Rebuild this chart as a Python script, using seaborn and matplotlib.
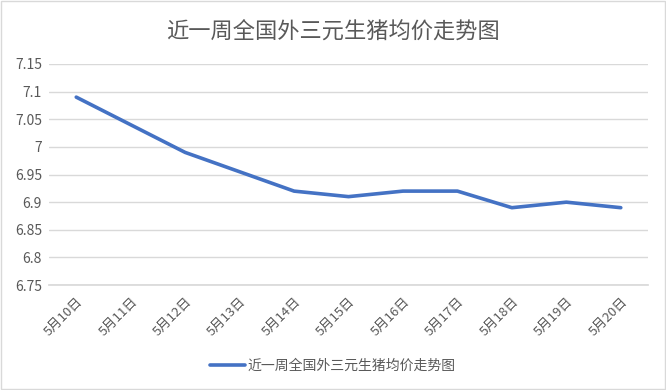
import seaborn as sns
import matplotlib.pyplot as plt
import pandas as pd
import numpy as np

dates = ['5月10日', '5月11日', '5月12日', '5月13日', '5月14日', '5月15日',
         '5月16日', '5月17日', '5月18日', '5月19日', '5月20日']
prices = [7.09, 7.04, 6.99, 6.955, 6.92, 6.91, 6.92, 6.92, 6.89, 6.90, 6.89]
series_name = '近一周全国外三元生猪均价走势图'
yticks = [6.75, 6.8, 6.85, 6.9, 6.95, 7, 7.05, 7.1, 7.15]
ytick_labels = ['6.75', '6.8', '6.85', '6.9', '6.95', '7', '7.05', '7.1', '7.15']

sns.set_theme(style='white')
plt.rcParams['font.family'] = ['Noto Sans CJK SC', 'DejaVu Sans']

df = pd.DataFrame({'date': dates, 'price': prices, 'series': series_name})
df['pos'] = np.arange(len(dates))

fig = plt.figure(figsize=(6.66, 3.9), dpi=100)
ax = fig.add_axes([0.0736, 0.269, 0.8994, 0.567])

sns.lineplot(data=df, x='pos', y='price', hue='series', palette=['#4472C4'],
             linewidth=2.6, ax=ax)

ax.set_xlim(-0.5, len(dates) - 0.5)
ax.set_ylim(6.75, 7.15)
ax.set_yticks(yticks)
ax.set_yticklabels(ytick_labels)
ax.set_xticks(df['pos'])
ax.set_xticklabels(dates, rotation=45, ha='right', rotation_mode='anchor')
ax.tick_params(axis='y', labelsize=10, labelcolor='#595959', length=0, pad=5)
ax.tick_params(axis='x', labelsize=9.5, labelcolor='#595959', length=0, pad=7)
ax.grid(axis='y', color='#D9D9D9', linewidth=1)
ax.set_axisbelow(True)
for s in ['top', 'right', 'left']:
    ax.spines[s].set_visible(False)
ax.spines['bottom'].set_color('#D9D9D9')
ax.set_xlabel('')
ax.set_ylabel('')

fig.text(0.5, 0.918, series_name, ha='center', va='center', fontsize=16, color='#595959')

handles, labels = ax.get_legend_handles_labels()
ax.legend(handles, labels, loc='center', bbox_to_anchor=(0.5, 0.062),
          bbox_transform=fig.transFigure, frameon=False, fontsize=10,
          labelcolor='#595959', handlelength=2.5, handletextpad=0.2)

fig.patches.append(plt.Rectangle((0.002, 0.003), 0.996, 0.994, transform=fig.transFigure,
                                 fill=False, edgecolor='#D9D9D9', linewidth=1))

fig.savefig('out.png', dpi=100)
